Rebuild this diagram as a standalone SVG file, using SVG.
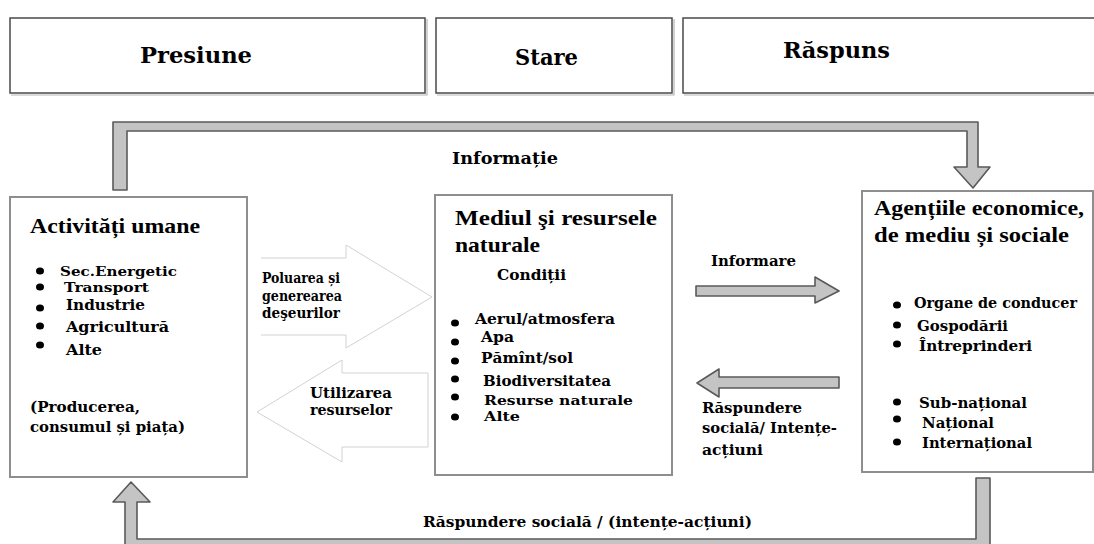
<svg xmlns="http://www.w3.org/2000/svg" width="1094" height="544" viewBox="0 0 1094 544">
  <defs>
    <style>
      .hdr { fill: #fff; stroke: #4a4a4a; stroke-width: 1.5; }
      .hdr-sh { fill: none; stroke: #b5b5b5; stroke-width: 1.2; }
      .box { fill: #fff; stroke: #8e8e8e; stroke-width: 2; }
      .t { font-family: "DejaVu Serif", "Liberation Serif", serif; font-weight: bold; fill: #000; }
      .h1 { font-size: 23px; }
      .h2 { font-family: "Liberation Serif", "DejaVu Serif", serif; font-size: 22px; }
      .it { font-size: 15px; }
      .it2 { font-size: 13.5px; }
      .sm { font-size: 14px; }
      .flow { fill: #c4c4c4; stroke: #5a5a5a; stroke-width: 1.6; stroke-linejoin: round; }
      .hollow { fill: #fff; stroke: #d2d2d2; stroke-width: 1; }
      .dot { fill: #000; }
    </style>
  </defs>

  <rect width="1094" height="544" fill="#fff"/>

  <!-- header row -->
  <g id="hdr-presiune">
    <rect class="hdr" x="10" y="18" width="415" height="75"/>
    <path class="hdr-sh" d="M11 95 H427 V19"/>
    <text class="t h1" x="140" y="63" textLength="112" lengthAdjust="spacingAndGlyphs">Presiune</text>
  </g>
  <g id="hdr-stare">
    <rect class="hdr" x="436" y="18" width="236" height="75"/>
    <path class="hdr-sh" d="M437 95 H674 V19"/>
    <text class="t h1" x="515" y="65" textLength="63" lengthAdjust="spacingAndGlyphs">Stare</text>
  </g>
  <g id="hdr-raspuns">
    <rect class="hdr" x="683" y="18" width="420" height="75"/>
    <path class="hdr-sh" d="M684 95 H1100"/>
    <text class="t h1" x="783" y="58" textLength="107" lengthAdjust="spacingAndGlyphs">Răspuns</text>
  </g>

  <!-- connectors -->
  <g id="connectors">
    <!-- Informație: top loop from human activities to agencies -->
    <path class="flow" d="M113 190 V122 H978 V167 H990 L973 188 L954 167 H967 V131 H127 V190 Z"/>
    <text class="t" font-size="16" x="452" y="164" textLength="106" lengthAdjust="spacingAndGlyphs">Informație</text>

    <!-- bottom loop: social response back to human activities -->
    <path class="flow" d="M976 478 H990 V552 H125 V502 H113 L131 482 L150 502 H137 V539 H976 Z"/>
    <text class="t" font-size="15" x="423" y="527" textLength="329" lengthAdjust="spacingAndGlyphs">Răspundere socială / (intențe-acțiuni)</text>

    <!-- pollution / waste arrow -->
    <path class="hollow" d="M261 258 H346 V245 L432 297 L346 348 V335 H261"/>
    <text class="t sm" x="262" y="283" textLength="78" lengthAdjust="spacingAndGlyphs">Poluarea și</text>
    <text class="t sm" x="262" y="301" textLength="80" lengthAdjust="spacingAndGlyphs">generearea</text>
    <text class="t sm" x="262" y="318" textLength="78" lengthAdjust="spacingAndGlyphs">deşeurilor</text>

    <!-- resource use arrow -->
    <path class="hollow" d="M428 373 V447 H342 V462 L257 412 L342 360 V373 Z"/>
    <text class="t sm" x="310" y="398" textLength="82" lengthAdjust="spacingAndGlyphs">Utilizarea</text>
    <text class="t sm" x="310" y="415" textLength="82" lengthAdjust="spacingAndGlyphs">resurselor</text>

    <!-- Informare -->
    <path class="flow" d="M696 286 H815 V277 L839 291 L815 303 V296 H696 Z"/>
    <text class="t sm" x="711" y="266" textLength="85" lengthAdjust="spacingAndGlyphs">Informare</text>

    <!-- social response -->
    <path class="flow" d="M839 377 V388 H719 V397 L697 383 L719 369 V377 Z"/>
    <text class="t sm" x="702" y="413" textLength="100" lengthAdjust="spacingAndGlyphs">Răspundere</text>
    <text class="t sm" x="702" y="433" textLength="135" lengthAdjust="spacingAndGlyphs">socială/ Intențe-</text>
    <text class="t sm" x="702" y="455" textLength="61" lengthAdjust="spacingAndGlyphs">acțiuni</text>
  </g>

  <!-- human activities -->
  <g id="node-activitati">
    <rect class="box" x="10" y="197" width="237" height="280"/>
    <text class="t h2" x="30" y="233" textLength="170" lengthAdjust="spacingAndGlyphs">Activități umane</text>
    <ellipse class="dot" cx="40" cy="271" rx="4" ry="3.5"/>
    <text class="t it2" x="60" y="276" textLength="117" lengthAdjust="spacingAndGlyphs">Sec.Energetic</text>
    <ellipse class="dot" cx="40" cy="287" rx="4" ry="3.5"/>
    <text class="t it2" x="64" y="292" textLength="85" lengthAdjust="spacingAndGlyphs">Transport</text>
    <ellipse class="dot" cx="40" cy="308" rx="4" ry="3.5"/>
    <text class="t it" x="66" y="310" textLength="79" lengthAdjust="spacingAndGlyphs">Industrie</text>
    <ellipse class="dot" cx="40" cy="326" rx="4" ry="3.5"/>
    <text class="t it" x="66" y="332" textLength="103" lengthAdjust="spacingAndGlyphs">Agricultură</text>
    <ellipse class="dot" cx="40" cy="345" rx="4" ry="3.5"/>
    <text class="t it" x="66" y="355" textLength="36" lengthAdjust="spacingAndGlyphs">Alte</text>
    <text class="t it" x="30" y="412" textLength="110" lengthAdjust="spacingAndGlyphs">(Producerea,</text>
    <text class="t it" x="30" y="432" textLength="155" lengthAdjust="spacingAndGlyphs">consumul și piața)</text>
  </g>

  <!-- environment and natural resources -->
  <g id="node-mediul">
    <rect class="box" x="435" y="195" width="237" height="280"/>
    <text class="t h2" x="455" y="225" textLength="202" lengthAdjust="spacingAndGlyphs">Mediul şi resursele</text>
    <text class="t h2" x="455" y="252" textLength="85" lengthAdjust="spacingAndGlyphs">naturale</text>
    <text class="t it" x="497" y="280" textLength="69" lengthAdjust="spacingAndGlyphs">Condiții</text>
    <ellipse class="dot" cx="455" cy="323" rx="4" ry="3.5"/>
    <text class="t it" x="475" y="324" textLength="140" lengthAdjust="spacingAndGlyphs">Aerul/atmosfera</text>
    <ellipse class="dot" cx="455" cy="342" rx="4" ry="3.5"/>
    <text class="t it" x="481" y="342" textLength="33" lengthAdjust="spacingAndGlyphs">Apa</text>
    <ellipse class="dot" cx="455" cy="361" rx="4" ry="3.5"/>
    <text class="t it" x="481" y="363" textLength="92" lengthAdjust="spacingAndGlyphs">Pămînt/sol</text>
    <ellipse class="dot" cx="455" cy="379" rx="4" ry="3.5"/>
    <text class="t it" x="483" y="386" textLength="128" lengthAdjust="spacingAndGlyphs">Biodiversitatea</text>
    <ellipse class="dot" cx="455" cy="397" rx="4" ry="3.5"/>
    <text class="t it2" x="484" y="405" textLength="149" lengthAdjust="spacingAndGlyphs">Resurse naturale</text>
    <ellipse class="dot" cx="455" cy="417" rx="4" ry="3.5"/>
    <text class="t it2" x="484" y="421" textLength="36" lengthAdjust="spacingAndGlyphs">Alte</text>
  </g>

  <!-- economic, environmental and social agencies -->
  <g id="node-agentii">
    <rect class="box" x="862" y="191" width="231" height="281"/>
    <text class="t h2" x="874" y="215" textLength="210" lengthAdjust="spacingAndGlyphs">Agențiile economice,</text>
    <text class="t h2" x="874" y="242" textLength="195" lengthAdjust="spacingAndGlyphs">de mediu și sociale</text>
    <ellipse class="dot" cx="897" cy="305" rx="4" ry="3.5"/>
    <text class="t it" x="914" y="308" textLength="163" lengthAdjust="spacingAndGlyphs">Organe de conducer</text>
    <ellipse class="dot" cx="897" cy="325" rx="4" ry="3.5"/>
    <text class="t it" x="917" y="331" textLength="91" lengthAdjust="spacingAndGlyphs">Gospodării</text>
    <ellipse class="dot" cx="897" cy="344" rx="4" ry="3.5"/>
    <text class="t it" x="919" y="351" textLength="113" lengthAdjust="spacingAndGlyphs">Întreprinderi</text>
    <ellipse class="dot" cx="897" cy="402" rx="4" ry="3.5"/>
    <text class="t it" x="919" y="408" textLength="108" lengthAdjust="spacingAndGlyphs">Sub-național</text>
    <ellipse class="dot" cx="897" cy="419" rx="4" ry="3.5"/>
    <text class="t it" x="922" y="428" textLength="72" lengthAdjust="spacingAndGlyphs">Național</text>
    <ellipse class="dot" cx="897" cy="442" rx="4" ry="3.5"/>
    <text class="t it" x="922" y="448" textLength="110" lengthAdjust="spacingAndGlyphs">Internațional</text>
  </g>
</svg>
